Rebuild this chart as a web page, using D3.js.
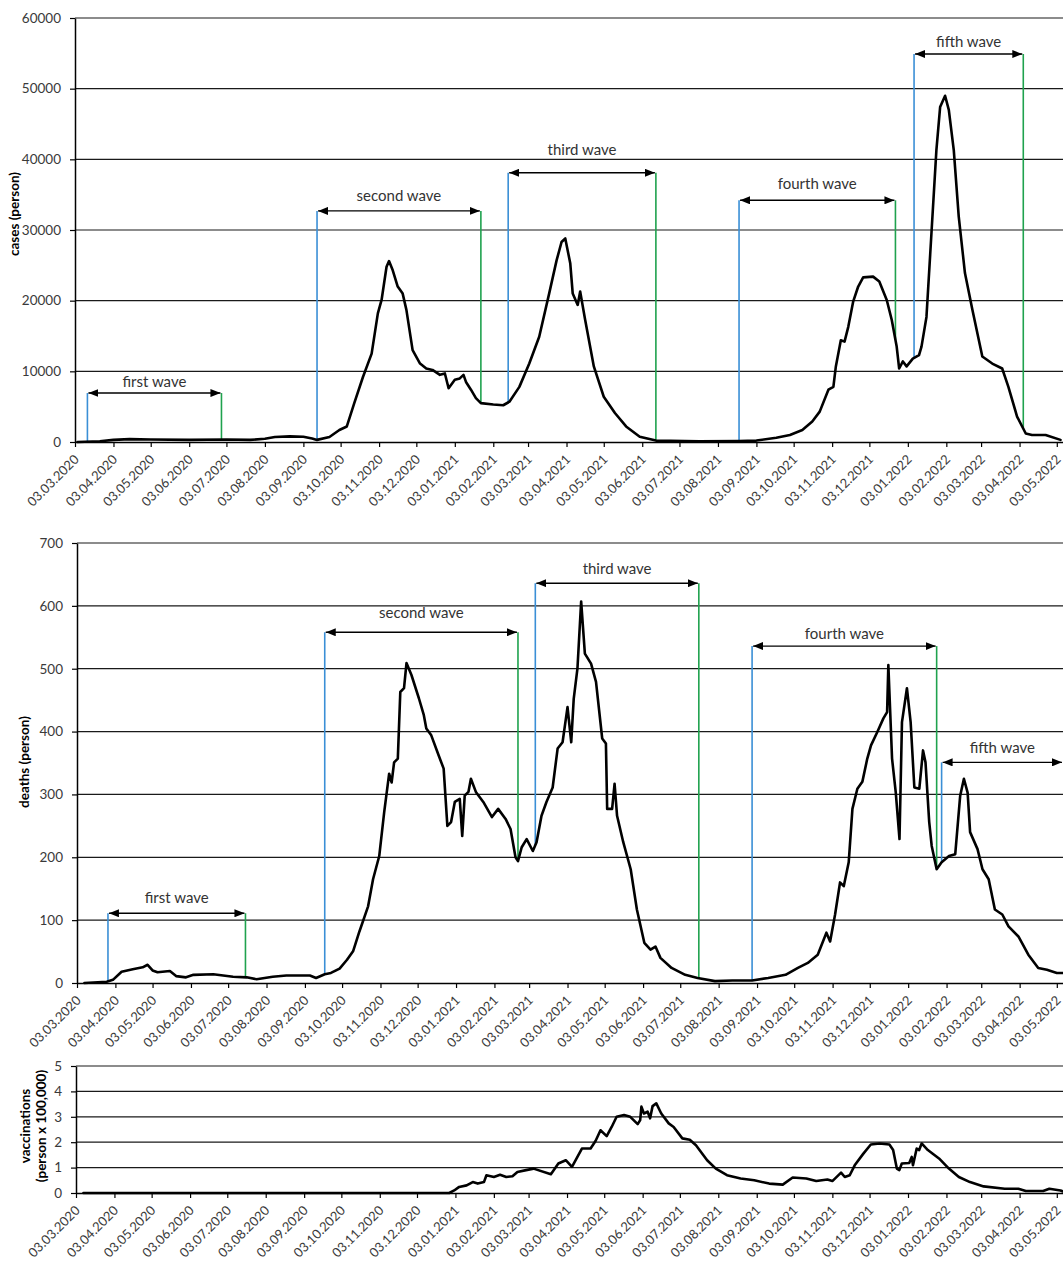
<!DOCTYPE html>
<html><head><meta charset="utf-8">
<script src="https://cdn.jsdelivr.net/npm/d3@7"></script>
<style>
body{margin:0;background:#fff}
svg{display:block}
text{font-family:Lato,"Open Sans",sans-serif}
</style>
</head><body>
<svg id="chart" width="1063" height="1262"></svg>
<script>
// ---------------- DATA ----------------
const tickLabels = ["03.03.2020","03.04.2020","03.05.2020","03.06.2020","03.07.2020","03.08.2020","03.09.2020","03.10.2020","03.11.2020","03.12.2020","03.01.2021","03.02.2021","03.03.2021","03.04.2021","03.05.2021","03.06.2021","03.07.2021","03.08.2021","03.09.2021","03.10.2021","03.11.2021","03.12.2021","03.01.2022","03.02.2022","03.03.2022","03.04.2022","03.05.2022"];

const casesTicks = [0,10000,20000,30000,40000,50000,60000];
const deathsTicks = [0,100,200,300,400,500,600,700];
const vaccTicks = [0,1,2,3,4,5];

const casesData = [["2020-03-05",0],["2020-03-23",100],["2020-04-03",300],["2020-04-16",400],["2020-05-03",350],["2020-06-03",300],["2020-07-03",350],["2020-07-22",300],["2020-08-03",450],["2020-08-11",700],["2020-08-23",800],["2020-09-03",750],["2020-09-10",500],["2020-09-14",300],["2020-09-24",700],["2020-10-02",1700],["2020-10-08",2200],["2020-10-14",5500],["2020-10-21",9200],["2020-10-28",12500],["2020-11-02",18200],["2020-11-05",20100],["2020-11-09",24800],["2020-11-11",25600],["2020-11-14",24300],["2020-11-18",22000],["2020-11-22",21000],["2020-11-25",18700],["2020-11-30",13000],["2020-12-06",11100],["2020-12-11",10400],["2020-12-16",10200],["2020-12-22",9500],["2020-12-26",9700],["2020-12-29",7600],["2021-01-03",8800],["2021-01-07",9000],["2021-01-10",9500],["2021-01-12",8500],["2021-01-16",7400],["2021-01-20",6200],["2021-01-24",5500],["2021-02-03",5300],["2021-02-11",5200],["2021-02-16",5700],["2021-02-24",7800],["2021-03-04",11100],["2021-03-12",14900],["2021-03-20",21000],["2021-03-26",25700],["2021-03-30",28300],["2021-04-02",28800],["2021-04-06",25300],["2021-04-08",21000],["2021-04-12",19400],["2021-04-14",21300],["2021-04-18",17300],["2021-04-25",10700],["2021-05-03",6400],["2021-05-12",4100],["2021-05-21",2200],["2021-06-01",750],["2021-06-14",200],["2021-07-19",100],["2021-08-20",150],["2021-09-03",200],["2021-09-19",600],["2021-09-30",1000],["2021-10-10",1700],["2021-10-18",2900],["2021-10-24",4300],["2021-10-31",7400],["2021-11-04",7800],["2021-11-06",10700],["2021-11-10",14400],["2021-11-13",14200],["2021-11-16",16300],["2021-11-20",19900],["2021-11-24",22000],["2021-11-28",23300],["2021-12-06",23400],["2021-12-11",22700],["2021-12-17",20100],["2021-12-21",17300],["2021-12-25",13500],["2021-12-27",10400],["2021-12-30",11400],["2022-01-02",10700],["2022-01-07",11800],["2022-01-12",12300],["2022-01-14",13500],["2022-01-18",17700],["2022-01-22",29500],["2022-01-26",41300],["2022-01-29",47400],["2022-02-02",49000],["2022-02-05",47000],["2022-02-09",41300],["2022-02-13",31900],["2022-02-18",23900],["2022-02-24",18700],["2022-03-04",12100],["2022-03-12",11100],["2022-03-20",10400],["2022-03-25",7800],["2022-04-01",3600],["2022-04-08",1200],["2022-04-13",1000],["2022-04-24",1000],["2022-05-06",300]];

const deathsData = [["2020-03-09",0],["2020-03-27",2],["2020-04-01",5],["2020-04-08",18],["2020-04-17",22],["2020-04-25",25],["2020-04-29",29],["2020-05-03",20],["2020-05-07",17],["2020-05-17",19],["2020-05-22",11],["2020-05-30",9],["2020-06-05",13],["2020-06-21",14],["2020-07-07",10],["2020-07-18",9],["2020-07-26",6],["2020-08-08",10],["2020-08-19",12],["2020-09-07",12],["2020-09-12",8],["2020-09-19",14],["2020-09-24",16],["2020-10-01",23],["2020-10-07",37],["2020-10-12",51],["2020-10-17",82],["2020-10-24",122],["2020-10-28",165],["2020-11-02",202],["2020-11-06",272],["2020-11-10",333],["2020-11-12",319],["2020-11-14",351],["2020-11-17",357],["2020-11-19",463],["2020-11-22",469],["2020-11-24",509],["2020-11-28",490],["2020-12-04",453],["2020-12-08",426],["2020-12-10",405],["2020-12-14",394],["2020-12-20",362],["2020-12-24",341],["2020-12-27",250],["2020-12-30",256],["2021-01-02",288],["2021-01-06",293],["2021-01-08",234],["2021-01-10",298],["2021-01-13",304],["2021-01-15",325],["2021-01-19",304],["2021-01-25",288],["2021-02-01",264],["2021-02-06",277],["2021-02-12",261],["2021-02-16",245],["2021-02-20",200],["2021-02-22",194],["2021-02-25",216],["2021-03-01",229],["2021-03-06",210],["2021-03-09",224],["2021-03-13",266],["2021-03-17",288],["2021-03-22",311],["2021-03-26",373],["2021-03-30",383],["2021-04-03",439],["2021-04-06",383],["2021-04-08",452],["2021-04-11",500],["2021-04-14",607],["2021-04-17",524],["2021-04-22",508],["2021-04-26",479],["2021-05-01",389],["2021-05-04",381],["2021-05-05",277],["2021-05-09",277],["2021-05-11",317],["2021-05-13",266],["2021-05-18",224],["2021-05-24",181],["2021-05-29",117],["2021-06-04",64],["2021-06-09",53],["2021-06-13",58],["2021-06-17",40],["2021-06-26",24],["2021-07-07",13],["2021-07-17",8],["2021-07-31",3],["2021-08-14",4],["2021-08-30",4],["2021-09-12",8],["2021-09-26",13],["2021-10-06",24],["2021-10-14",32],["2021-10-22",45],["2021-10-29",80],["2021-11-01",66],["2021-11-05",109],["2021-11-09",160],["2021-11-12",154],["2021-11-16",192],["2021-11-19",277],["2021-11-23",309],["2021-11-27",320],["2021-12-01",357],["2021-12-04",378],["2021-12-09",399],["2021-12-14",421],["2021-12-17",431],["2021-12-18",506],["2021-12-21",357],["2021-12-24",303],["2021-12-27",229],["2021-12-29",415],["2022-01-02",469],["2022-01-05",415],["2022-01-08",311],["2022-01-12",309],["2022-01-15",370],["2022-01-17",351],["2022-01-20",256],["2022-01-22",218],["2022-01-26",181],["2022-01-30",192],["2022-02-05",202],["2022-02-10",205],["2022-02-14",298],["2022-02-17",325],["2022-02-20",303],["2022-02-22",240],["2022-02-28",213],["2022-03-04",181],["2022-03-09",165],["2022-03-14",117],["2022-03-20",109],["2022-03-25",90],["2022-04-02",74],["2022-04-10",45],["2022-04-18",24],["2022-04-25",21],["2022-05-03",16],["2022-05-08",16]];

const vaccData = [["2020-03-09",0],["2020-12-29",0],["2021-01-02",0.1],["2021-01-06",0.24],["2021-01-12",0.3],["2021-01-17",0.43],["2021-01-21",0.37],["2021-01-26",0.43],["2021-01-28",0.7],["2021-02-03",0.63],["2021-02-08",0.72],["2021-02-13",0.63],["2021-02-18",0.66],["2021-02-22",0.83],["2021-03-01",0.9],["2021-03-07",0.96],["2021-03-21",0.74],["2021-03-27",1.16],["2021-04-02",1.29],["2021-04-07",1.03],["2021-04-15",1.75],["2021-04-22",1.75],["2021-04-26",2.05],["2021-04-30",2.47],["2021-05-05",2.24],["2021-05-09",2.6],["2021-05-13",3.0],["2021-05-19",3.07],["2021-05-24",3.0],["2021-05-30",2.71],["2021-06-01",2.87],["2021-06-02",3.4],["2021-06-04",3.13],["2021-06-07",3.2],["2021-06-09",2.94],["2021-06-11",3.42],["2021-06-14",3.53],["2021-06-18",3.13],["2021-06-24",2.74],["2021-06-28",2.6],["2021-07-05",2.15],["2021-07-11",2.1],["2021-07-16",1.88],["2021-07-25",1.29],["2021-08-01",0.96],["2021-08-10",0.7],["2021-08-21",0.57],["2021-09-01",0.5],["2021-09-13",0.37],["2021-09-24",0.33],["2021-10-02",0.61],["2021-10-13",0.57],["2021-10-21",0.47],["2021-10-30",0.53],["2021-11-03",0.47],["2021-11-10",0.8],["2021-11-13",0.63],["2021-11-17",0.7],["2021-11-21",1.09],["2021-11-28",1.55],["2021-12-04",1.91],["2021-12-11",1.95],["2021-12-19",1.91],["2021-12-22",1.69],["2021-12-25",0.96],["2021-12-27",0.9],["2021-12-29",1.16],["2022-01-04",1.18],["2022-01-06",1.42],["2022-01-07",1.09],["2022-01-10",1.75],["2022-01-12",1.69],["2022-01-14",1.95],["2022-01-19",1.69],["2022-01-28",1.36],["2022-02-05",0.96],["2022-02-13",0.63],["2022-02-22",0.43],["2022-03-05",0.26],["2022-03-22",0.17],["2022-04-02",0.17],["2022-04-08",0.08],["2022-04-22",0.08],["2022-04-27",0.17],["2022-05-06",0.1],["2022-05-08",0.06]];

// wave annotations: name, start, end, arrow level, label level (data units)
const casesWaves = [
  {name:"first wave",  start:"2020-03-13", end:"2020-06-29", level:6930,  label:7780,  endLine:true},
  {name:"second wave", start:"2020-09-14", end:"2021-01-24", level:32700, label:34100, endLine:true},
  {name:"third wave",  start:"2021-02-15", end:"2021-06-14", level:38100, label:40600, endLine:true},
  {name:"fourth wave", start:"2021-08-20", end:"2021-12-24", level:34200, label:35800, endLine:true},
  {name:"fifth wave",  start:"2022-01-08", end:"2022-04-06", level:54900, label:55900, endLine:true}
];
const deathsWaves = [
  {name:"first wave",  start:"2020-03-28", end:"2020-07-17", level:111, label:128, endLine:true},
  {name:"second wave", start:"2020-09-19", end:"2021-02-22", level:558, label:580, endLine:true},
  {name:"third wave",  start:"2021-03-08", end:"2021-07-18", level:636, label:651, endLine:true},
  {name:"fourth wave", start:"2021-08-30", end:"2022-01-26", level:536, label:548, endLine:true},
  {name:"fifth wave",  start:"2022-01-30", end:"2022-05-08", level:351, label:366, endLine:false}
];

// ---------------- DRAW ----------------
const parseISO = d3.timeParse("%Y-%m-%d");
const parseTick = d3.timeParse("%d.%m.%Y");
const tickDates = tickLabels.map(parseTick);
const svg = d3.select("#chart");
svg.append("rect").attr("width",1063).attr("height",1262).attr("fill","#fff");

const defs = svg.append("defs");
defs.append("marker").attr("id","ah").attr("viewBox","0 0 10 8")
  .attr("markerWidth",10).attr("markerHeight",8).attr("markerUnits","userSpaceOnUse")
  .attr("refX",10).attr("refY",4).attr("orient","auto-start-reverse")
  .append("path").attr("d","M0,0 L10,4 L0,8 Z").attr("fill","#000");

const RIGHT = 1063;
const BLUE = "#3a8fd6", GREEN = "#1fa24e";

function panel(cfg, idx){
  const data = cfg.data.map(d => ({date: parseISO(d[0]), v: d[1]}));
  const x = d3.scaleTime().domain([parseTick("03.03.2020"), parseISO(cfg.end)]).range([cfg.left, RIGHT]);
  const y = d3.scaleLinear().domain([0, d3.max(cfg.ticks)]).range([cfg.bottom, cfg.top]);
  const g = svg.append("g");

  defs.append("clipPath").attr("id","clip"+idx).append("rect")
    .attr("x", cfg.left).attr("y", cfg.top-20).attr("width", RIGHT-cfg.left).attr("height", cfg.bottom-cfg.top+22);

  // gridlines
  g.selectAll("line.grid").data(cfg.ticks.slice(1)).join("line")
    .attr("x1", cfg.left).attr("x2", RIGHT)
    .attr("y1", d => y(d)).attr("y2", d => y(d))
    .attr("stroke", "#1a1a1a").attr("stroke-width", 1.2);

  // y axis
  const ya = g.append("g").attr("transform", `translate(${cfg.left},0)`)
    .call(d3.axisLeft(y).tickValues(cfg.ticks).tickSize(5).tickSizeOuter(0).tickPadding(9).tickFormat(d3.format("d")));
  ya.select(".domain").attr("stroke","#000").attr("stroke-width",1.5);
  ya.selectAll(".tick line").attr("stroke","#000").attr("stroke-width",1.2);
  ya.selectAll(".tick text").attr("font-size","13.5px").attr("fill","#3a3a3a").attr("font-family","Lato");

  // x axis
  const xa = g.append("g").attr("transform", `translate(0,${cfg.bottom})`)
    .call(d3.axisBottom(x).tickValues(tickDates).tickSize(5).tickSizeOuter(0).tickFormat((d,i) => tickLabels[i]));
  xa.select(".domain").attr("stroke","#000").attr("stroke-width",1.5);
  xa.selectAll(".tick line").attr("stroke","#000").attr("stroke-width",1.2);
  xa.selectAll(".tick text")
    .attr("font-size","13px").attr("fill","#3a3a3a").attr("font-family","Lato")
    .attr("text-anchor","end").attr("x", 0).attr("y", 0).attr("dy","0.35em")
    .attr("transform","translate(1,15) rotate(-45)");

  // wave annotations
  if (cfg.waves){
    const bis = d3.bisector(d => d.date).left;
    const valueAt = dt => {
      const i = bis(data, dt);
      if (i <= 0) return data[0].v;
      if (i >= data.length) return data[data.length-1].v;
      const a = data[i-1], b = data[i];
      const t = (dt - a.date) / (b.date - a.date);
      return a.v + t*(b.v - a.v);
    };
    cfg.waves.forEach(w => {
      const s = parseISO(w.start), e = parseISO(w.end);
      const xs = x(s), xe = Math.min(x(e), RIGHT);
      const yl = y(w.level);
      g.append("line").attr("x1",xs).attr("x2",xs).attr("y1",y(valueAt(s))).attr("y2",yl)
        .attr("stroke",BLUE).attr("stroke-width",1.6);
      if (w.endLine){
        g.append("line").attr("x1",xe).attr("x2",xe).attr("y1",y(valueAt(e))).attr("y2",yl)
          .attr("stroke",GREEN).attr("stroke-width",1.6);
      }
      g.append("line").attr("x1",xs+1).attr("x2",xe-1).attr("y1",yl).attr("y2",yl)
        .attr("stroke","#000").attr("stroke-width",1.4)
        .attr("marker-start","url(#ah)").attr("marker-end","url(#ah)");
      g.append("text").attr("x",(xs+xe)/2).attr("y",y(w.label))
        .attr("text-anchor","middle").attr("font-size","15px").attr("fill","#333")
        .text(w.name);
    });
  }

  // data line
  const line = d3.line().x(d => x(d.date)).y(d => y(d.v));
  g.append("path").datum(data).attr("d", line).attr("clip-path", `url(#clip${idx})`)
    .attr("fill","none").attr("stroke","#000").attr("stroke-width",2.6)
    .attr("stroke-linejoin","round").attr("stroke-linecap","round");

  // y title
  const tt = g.append("text").attr("transform", `translate(${cfg.titleX},${cfg.titleY}) rotate(-90)`)
    .attr("text-anchor","middle").attr("font-size","13.5px").attr("font-weight","bold").attr("fill","#000");
  cfg.title.forEach((t,i) => {
    tt.append("tspan").attr("x",0).attr("dy", i===0 ? 0 : "1.15em").text(t);
  });
}

panel({data: casesData, ticks: casesTicks, waves: casesWaves, left:75, top:18, bottom:442, end:"2022-05-08",
       title:["cases (person)"], titleX:19, titleY:214}, 0);
panel({data: deathsData, ticks: deathsTicks, waves: deathsWaves, left:77, top:543, bottom:983, end:"2022-05-08",
       title:["deaths (person)"], titleX:29, titleY:762}, 1);
panel({data: vaccData, ticks: vaccTicks, waves: null, left:76, top:1066, bottom:1193, end:"2022-05-08",
       title:["vaccinations","(person x 100,000)"], titleX:30, titleY:1126}, 2);
</script>
</body></html>
